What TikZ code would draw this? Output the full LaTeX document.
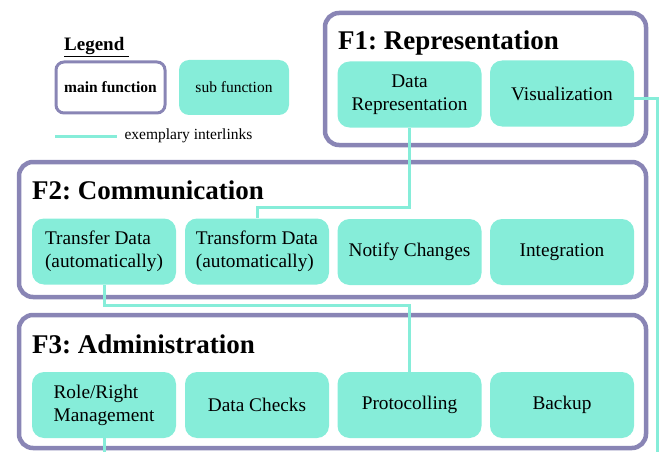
\documentclass[tikz,border=0pt]{standalone}
\usepackage{fontspec}
\setmainfont{Liberation Serif}
\usetikzlibrary{positioning}
\frenchspacing

\definecolor{fnpurple}{RGB}{137,133,181}
\definecolor{fncyan}{RGB}{134,237,217}

\tikzset{
  mainframe/.style={draw=fnpurple, line width=4.5pt, rounded corners=14pt, inner sep=0pt},
  subfn/.style={fill=fncyan, rounded corners=12pt, inner sep=0pt,
    minimum width=144pt, minimum height=66pt, align=center,
    font=\fontsize{19.3}{23}\selectfont},
  title/.style={anchor=base west, inner sep=0pt, font=\fontsize{27}{30}\selectfont\bfseries},
  link/.style={draw=fncyan, line width=3pt}
}

\begin{document}
\begin{tikzpicture}[x=1pt, y=-1pt]
  \useasboundingbox (0,0) rectangle (662,452);

  % legend
  \node[anchor=base west, inner sep=0pt, font=\fontsize{19}{22}\selectfont\bfseries] (lhead) at (64,51) {\underline{Legend~}};
  \node[draw=fnpurple, line width=3pt, rounded corners=8pt, minimum width=109pt, minimum height=51pt,
    font=\fontsize{15.5}{18}\selectfont\bfseries] (lmain) at (110.5,87.5) {main function};
  \node[fill=fncyan, rounded corners=10pt, minimum width=110pt, minimum height=55pt,
    font=\fontsize{15.5}{18}\selectfont] (lsub) at (234,87.5) {sub function};
  \coordinate (lline) at (55,136);
  \draw[link] (lline) -- ++(62,0) node[right=6pt, text=black, inner sep=0pt,
    font=\fontsize{15.5}{18}\selectfont] (ltext) {exemplary interlinks};

  % main functions
  \node[mainframe, minimum width=321pt, minimum height=132pt] (f1) at (485.5,79) {};
  \node[mainframe, minimum width=627pt, minimum height=135pt] (f2) at (332.5,229.5) {};
  \node[mainframe, minimum width=627pt, minimum height=133pt] (f3) at (332.5,381.5) {};
  \node[title] (t1) at (338,50) {F1: Representation};
  \node[title] (t2) at (32,199) {F2: Communication};
  \node[title] (t3) at (32,353) {F3: Administration};

  % sub functions
  \node[subfn] (datarep) at (409.5,94.5) {Data\\Representation};
  \node[subfn] (visual) at (562,93.5) {Visualization};

  \node[subfn, align=left] (transfer) at (104,251.5) {Transfer Data\\(automatically)};
  \node[subfn, align=left] (transform) at (257,251.5) {Transform Data\\(automatically)};
  \node[subfn] (notify) at (409.5,252) {Notify Changes};
  \node[subfn] (integr) at (562,252) {Integration};

  \node[subfn, align=left] (role) at (104,405) {Role/Right\\Management};
  \node[subfn] (checks) at (257,405) {Data Checks};
  \node[subfn] (protocol) at (409.5,405) {Protocolling};
  \node[subfn] (backup) at (562,405) {Backup};

  % interlinks
  \coordinate (vend) at (657.5,452);
  \coordinate (rend) at (104,452);
  \draw[link] (datarep.south) -- ++(0,80) -| (transform.north);
  \draw[link] (transfer.south) -- ++(0,21) -| (protocol.north);
  \draw[link] ([yshift=-5pt]visual.east) -| (vend);
  \draw[link] (role.south) -- (rend);
\end{tikzpicture}
\end{document}
